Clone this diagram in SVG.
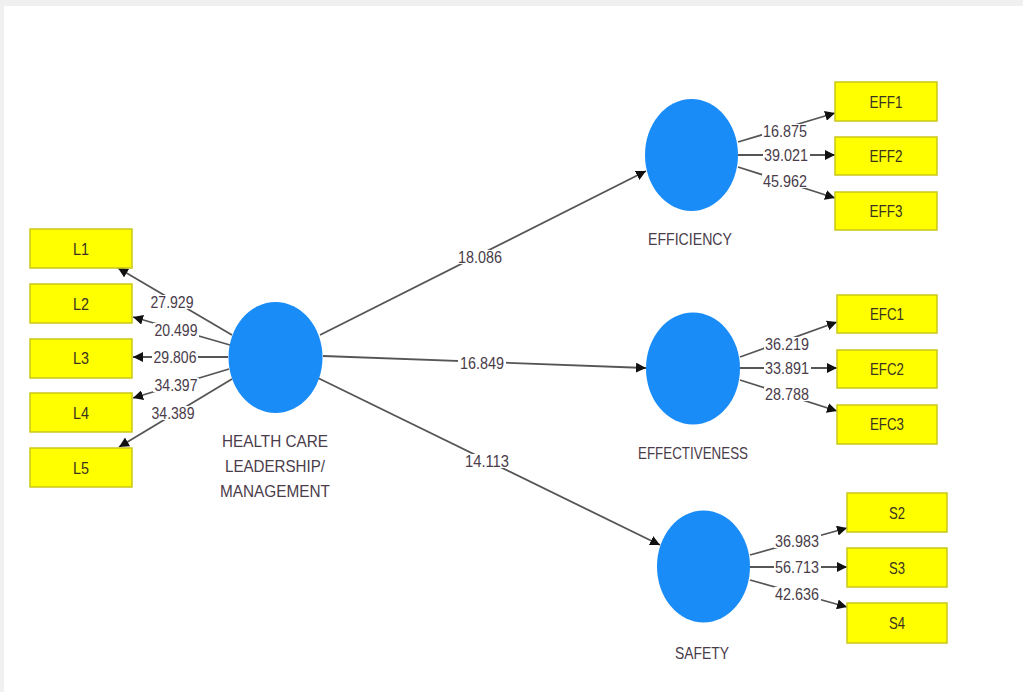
<svg xmlns="http://www.w3.org/2000/svg" width="1023" height="692" viewBox="0 0 1023 692">
<defs>
<marker id="ah" viewBox="0 0 10 10" refX="10" refY="5" markerWidth="10" markerHeight="10" markerUnits="userSpaceOnUse" orient="auto">
<path d="M0,0 L10,5 L0,10 z" fill="#111"/>
</marker>
<style>
.box{fill:#ffff00;stroke:#c9c71a;stroke-width:1.5}
.bt{font-family:"Liberation Sans",Arial,sans-serif;font-size:17px;fill:#3a3320;text-anchor:middle;dominant-baseline:central}
.lv{fill:#1a8cf8}
.lt{font-family:"Liberation Sans",Arial,sans-serif;font-size:17px;fill:#4a3c4a;text-anchor:middle}
.c{stroke:#555;stroke-width:1.8;fill:none;marker-end:url(#ah)}
.bg{fill:#fff}
.n{font-family:"Liberation Sans",Arial,sans-serif;font-size:17px;fill:#4a3c4a;text-anchor:middle;dominant-baseline:central}
</style>
</defs>
<rect x="0" y="0" width="1023" height="692" fill="#f0f0f0"/>
<rect x="4" y="6" width="1019" height="686" fill="#ffffff"/>

<g id="connectors">
<line class="c" x1="232" y1="335" x2="118" y2="268"/>
<line class="c" x1="230" y1="345" x2="133" y2="317"/>
<line class="c" x1="228" y1="357" x2="133" y2="357"/>
<line class="c" x1="229" y1="369" x2="133" y2="398"/>
<line class="c" x1="232" y1="379" x2="119" y2="447"/>
<line class="c" x1="320" y1="335" x2="646" y2="171"/>
<line class="c" x1="323" y1="356" x2="646" y2="368"/>
<line class="c" x1="318" y1="378" x2="660" y2="545"/>
<line class="c" x1="738" y1="142" x2="835" y2="113"/>
<line class="c" x1="738" y1="155" x2="835" y2="155"/>
<line class="c" x1="738" y1="167" x2="835" y2="198"/>
<line class="c" x1="740" y1="357" x2="837" y2="322"/>
<line class="c" x1="740" y1="368" x2="837" y2="368"/>
<line class="c" x1="740" y1="380" x2="837" y2="411"/>
<line class="c" x1="750" y1="555" x2="847" y2="528"/>
<line class="c" x1="750" y1="567" x2="847" y2="567"/>
<line class="c" x1="750" y1="580" x2="847" y2="607"/>
<g>
<rect class="bg" x="149" y="295" width="46" height="14"/>
<rect class="bg" x="153" y="323" width="46" height="14"/>
<rect class="bg" x="152" y="350" width="46" height="14"/>
<rect class="bg" x="153" y="378" width="46" height="14"/>
<rect class="bg" x="150" y="406" width="46" height="14"/>
<rect class="bg" x="456" y="250" width="48" height="14"/>
<rect class="bg" x="458" y="356" width="48" height="14"/>
<rect class="bg" x="463" y="454" width="48" height="14"/>
<rect class="bg" x="762" y="124" width="47" height="14"/>
<rect class="bg" x="763" y="148" width="47" height="14"/>
<rect class="bg" x="762" y="174" width="47" height="14"/>
<rect class="bg" x="764" y="337" width="47" height="14"/>
<rect class="bg" x="764" y="361" width="47" height="14"/>
<rect class="bg" x="764" y="387" width="47" height="14"/>
<rect class="bg" x="774" y="534" width="47" height="14"/>
<rect class="bg" x="774" y="560" width="47" height="14"/>
<rect class="bg" x="774" y="587" width="47" height="14"/>
</g>
<text class="n" x="172" y="302" textLength="43" lengthAdjust="spacingAndGlyphs">27.929</text>
<text class="n" x="176" y="330" textLength="43" lengthAdjust="spacingAndGlyphs">20.499</text>
<text class="n" x="175" y="357" textLength="43" lengthAdjust="spacingAndGlyphs">29.806</text>
<text class="n" x="176" y="385" textLength="43" lengthAdjust="spacingAndGlyphs">34.397</text>
<text class="n" x="173" y="413" textLength="43" lengthAdjust="spacingAndGlyphs">34.389</text>
<text class="n" x="480" y="257" textLength="44" lengthAdjust="spacingAndGlyphs">18.086</text>
<text class="n" x="482" y="363" textLength="44" lengthAdjust="spacingAndGlyphs">16.849</text>
<text class="n" x="487" y="461" textLength="44" lengthAdjust="spacingAndGlyphs">14.113</text>
<text class="n" x="785" y="131" textLength="44" lengthAdjust="spacingAndGlyphs">16.875</text>
<text class="n" x="786" y="155" textLength="44" lengthAdjust="spacingAndGlyphs">39.021</text>
<text class="n" x="785" y="181" textLength="44" lengthAdjust="spacingAndGlyphs">45.962</text>
<text class="n" x="787" y="344" textLength="44" lengthAdjust="spacingAndGlyphs">36.219</text>
<text class="n" x="787" y="368" textLength="44" lengthAdjust="spacingAndGlyphs">33.891</text>
<text class="n" x="787" y="394" textLength="44" lengthAdjust="spacingAndGlyphs">28.788</text>
<text class="n" x="797" y="541" textLength="44" lengthAdjust="spacingAndGlyphs">36.983</text>
<text class="n" x="797" y="567" textLength="44" lengthAdjust="spacingAndGlyphs">56.713</text>
<text class="n" x="797" y="594" textLength="44" lengthAdjust="spacingAndGlyphs">42.636</text>
</g>

<g id="L1"><rect class="box" x="30" y="229" width="102" height="39"/><text class="bt" x="81" y="249" textLength="16" lengthAdjust="spacingAndGlyphs">L1</text></g>
<g id="L2"><rect class="box" x="30" y="284" width="102" height="39"/><text class="bt" x="81" y="304" textLength="16" lengthAdjust="spacingAndGlyphs">L2</text></g>
<g id="L3"><rect class="box" x="30" y="339" width="102" height="39"/><text class="bt" x="81" y="358" textLength="16" lengthAdjust="spacingAndGlyphs">L3</text></g>
<g id="L4"><rect class="box" x="30" y="393" width="102" height="39"/><text class="bt" x="81" y="413" textLength="16" lengthAdjust="spacingAndGlyphs">L4</text></g>
<g id="L5"><rect class="box" x="30" y="448" width="102" height="39"/><text class="bt" x="81" y="468" textLength="16" lengthAdjust="spacingAndGlyphs">L5</text></g>

<g id="HCL">
<ellipse class="lv" cx="275.5" cy="357.5" rx="47" ry="55.5"/>
<text class="lt" x="275" y="447" textLength="106" lengthAdjust="spacingAndGlyphs">HEALTH CARE</text>
<text class="lt" x="275" y="472" textLength="100" lengthAdjust="spacingAndGlyphs">LEADERSHIP/</text>
<text class="lt" x="275" y="497" textLength="110" lengthAdjust="spacingAndGlyphs">MANAGEMENT</text>
</g>

<g id="EFFICIENCY">
<ellipse class="lv" cx="691.5" cy="155" rx="46.5" ry="56"/>
<text class="lt" x="690" y="245" textLength="84" lengthAdjust="spacingAndGlyphs">EFFICIENCY</text>
</g>
<g id="EFFECTIVENESS">
<ellipse class="lv" cx="693" cy="368.5" rx="47" ry="56"/>
<text class="lt" x="693" y="459" textLength="110" lengthAdjust="spacingAndGlyphs">EFFECTIVENESS</text>
</g>
<g id="SAFETY">
<ellipse class="lv" cx="703.5" cy="566.5" rx="46.5" ry="56"/>
<text class="lt" x="702" y="659" textLength="54" lengthAdjust="spacingAndGlyphs">SAFETY</text>
</g>

<g id="EFF1"><rect class="box" x="835" y="82" width="102" height="39"/><text class="bt" x="886" y="102" textLength="33" lengthAdjust="spacingAndGlyphs">EFF1</text></g>
<g id="EFF2"><rect class="box" x="835" y="137" width="102" height="38"/><text class="bt" x="886" y="156" textLength="33" lengthAdjust="spacingAndGlyphs">EFF2</text></g>
<g id="EFF3"><rect class="box" x="835" y="192" width="102" height="38"/><text class="bt" x="886" y="211" textLength="33" lengthAdjust="spacingAndGlyphs">EFF3</text></g>
<g id="EFC1"><rect class="box" x="837" y="295" width="100" height="38"/><text class="bt" x="887" y="314" textLength="34" lengthAdjust="spacingAndGlyphs">EFC1</text></g>
<g id="EFC2"><rect class="box" x="837" y="350" width="100" height="38"/><text class="bt" x="887" y="369" textLength="34" lengthAdjust="spacingAndGlyphs">EFC2</text></g>
<g id="EFC3"><rect class="box" x="837" y="405" width="100" height="39"/><text class="bt" x="887" y="424" textLength="34" lengthAdjust="spacingAndGlyphs">EFC3</text></g>
<g id="S2"><rect class="box" x="847" y="493" width="100" height="39"/><text class="bt" x="897" y="513" textLength="16" lengthAdjust="spacingAndGlyphs">S2</text></g>
<g id="S3"><rect class="box" x="847" y="548" width="100" height="39"/><text class="bt" x="897" y="568" textLength="16" lengthAdjust="spacingAndGlyphs">S3</text></g>
<g id="S4"><rect class="box" x="847" y="603" width="100" height="40"/><text class="bt" x="897" y="623" textLength="16" lengthAdjust="spacingAndGlyphs">S4</text></g>
</svg>
